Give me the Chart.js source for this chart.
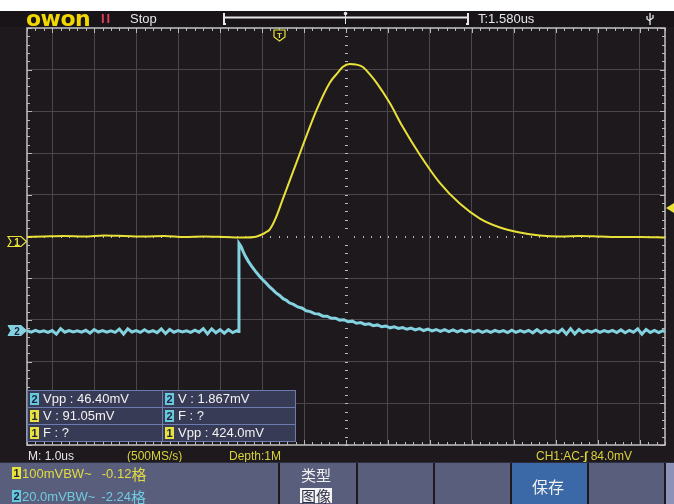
<!DOCTYPE html>
<html><head><meta charset="utf-8">
<script src="https://cdn.jsdelivr.net/npm/chart.js@4.4.1/dist/chart.umd.min.js"></script>
<style>
html,body{margin:0;padding:0;background:#1d191d;}
#wrap{position:relative;width:674px;height:504px;overflow:hidden;background:#1d191d;font-family:"Liberation Sans",Arial,sans-serif;}
#c{position:absolute;left:0;top:0;}
.t{position:absolute;white-space:nowrap;line-height:1;}
.row{position:absolute;white-space:nowrap;display:flex;align-items:center;height:14px;}
.cjk{font-family:"Noto Sans CJK SC","Liberation Sans",sans-serif;}
.badge{display:inline-block;width:9px;height:12px;line-height:12px;text-align:center;font-size:11px;font-weight:bold;color:#1d2040;}
.b1{background:#e8e23c;}
.b2{background:#66c9dc;}
.panel{position:absolute;top:463px;height:41px;background:#595e7c;}
.cell{position:absolute;height:17px;color:#f2f2f2;font-size:13px;display:flex;align-items:center;white-space:nowrap;}
</style></head>
<body><div id="wrap">
<canvas id="c" width="674" height="504"></canvas>
</div>
<script>
const CH1_SCALE = 100;   // mV/div
const CH1_OFFSET = -0.12; // div
const CH2_SCALE = 20;    // mV/div
const CH2_OFFSET = -2.24; // div
const X_GRID = [-7,-6,-5,-4,-3,-2,-1,1,2,3,4,5,6,7]; // us (1.0us/div), centre drawn dotted
const Y_GRID = [-4,-3,-2,-1,1,2,3,4];

const ch1Time = [-7.6,-7.19,-6.72,-6.24,-5.76,-5.28,-4.81,-4.33,-3.85,-3.38,-2.9,-2.42,-2.18,-2.06,-1.92,-1.82,-1.68,-1.51,-1.27,-1.04,-0.7,-0.39,-0.2,-0.08,0.09,0.23,0.4,0.56,0.73,1.04,1.35,1.76,2.23,2.71,3.19,3.67,4.14,4.62,5.1,5.58,6.05,6.53,7.01,7.6];
const ch1mV = [10.8,12.0,13.2,12.0,14.4,13.2,12.0,13.2,10.8,12.0,10.8,9.6,10.8,14.4,21.5,28.7,55.0,100.5,165.0,227.2,315.7,380.3,404.2,418.6,425.8,424.6,418.6,401.9,380.3,332.5,275.1,208.1,141.1,90.9,55.0,33.5,21.5,14.4,12.0,13.2,12.0,10.8,10.8,9.6];

const ch2Time = [-7.6,-7.5,-7.4,-7.3,-7.2,-7.1,-7.0,-6.9,-6.8,-6.7,-6.6,-6.5,-6.4,-6.3,-6.2,-6.1,-6.0,-5.9,-5.8,-5.7,-5.6,-5.5,-5.4,-5.3,-5.2,-5.1,-5.0,-4.9,-4.8,-4.7,-4.6,-4.5,-4.4,-4.3,-4.2,-4.1,-4.0,-3.9,-3.8,-3.7,-3.6,-3.5,-3.4,-3.3,-3.2,-3.1,-3.0,-2.9,-2.8,-2.7,-2.6,
 -2.57,-2.55,
 -2.50,-2.45,-2.40,-2.33,-2.25,-2.16,-2.07,-1.99,-1.90,-1.82,-1.74,-1.66,-1.58,-1.50,-1.42,-1.35,-1.25,-1.15,-1.04,-0.95,-0.85,-0.75,-0.65,-0.55,-0.45,-0.35,-0.25,-0.15,-0.05,
 0.05,0.15,0.25,0.35,0.45,0.55,0.65,0.75,0.85,0.95,1.05,1.15,1.25,1.35,1.45,1.55,1.65,1.75,1.85,1.95,2.05,2.15,2.25,2.35,2.45,2.55,2.65,2.75,2.85,2.95,
 3.05,3.15,3.25,3.35,3.45,3.55,3.65,3.75,3.85,3.95,4.05,4.15,4.25,4.35,4.45,4.55,4.65,4.75,4.85,4.95,5.05,5.15,5.25,5.35,5.45,5.55,5.65,5.75,5.85,5.95,
 6.05,6.15,6.25,6.35,6.45,6.55,6.65,6.75,6.85,6.95,7.05,7.15,7.25,7.35,7.45,7.55,7.6];
const ch2mV = [-0.3,-1.1,-0.2,-1.0,-0.4,-1.2,-0.3,-2.0,0.6,-1.1,-0.3,-1.0,-0.4,-1.1,-0.2,-1.5,0.2,-1.0,-0.3,-1.1,-0.4,-1.2,0.4,-2.0,0.5,-1.0,-0.3,-1.2,0.1,-1.1,-0.3,-1.3,0.5,-1.8,0.2,-1.1,-0.3,-1.0,-0.4,-1.2,-0.1,-1.1,0.6,-1.9,0.5,-1.4,0.1,-1.6,0.1,-1.3,-0.4,
 -0.8,41.5,
 40.0,37.6,35.4,33.0,30.6,28.2,26.0,24.2,22.4,20.6,19.2,17.6,16.5,15.0,14.2,13.0,12.2,11.0,10.4,9.2,8.8,7.8,7.6,6.6,6.6,5.6,5.6,4.7,4.9,
 3.9,4.2,3.2,3.5,2.6,2.9,2.0,2.4,1.5,1.9,1.0,1.5,0.7,1.1,0.3,0.9,0.0,0.6,-0.3,0.4,-0.5,0.2,-0.7,0.1,-0.8,0.0,-0.9,-0.1,-1.0,-0.2,
 -1.1,-0.2,-1.2,-0.3,-1.2,-0.2,-1.0,-0.3,-1.3,-0.1,-1.2,-0.3,-1.1,-0.2,-1.4,0.1,-1.3,-0.2,-1.2,-0.3,-1.3,0.3,-2.0,0.6,-1.9,0.2,-1.3,-0.3,-1.1,-0.1,
 -1.2,-0.3,-1.0,-0.2,-1.3,0.0,-1.4,-0.2,-1.1,0.5,-2.0,0.2,-1.2,-0.2,-1.3,-0.4,-0.8];

const measurements = [
  [["2","Vpp : 46.40mV"],["2","V : 1.867mV"]],
  [["1","V : 91.05mV"],["2","F :   ?"]],
  [["1","F :   ?"],["1","Vpp : 424.0mV"]]
];

// ---- chart ----
const YEL = '#e9e13a', CYA = '#84d2df';
const frame = {
  id:'frame',
  beforeDatasetsDraw(chart){
    const {ctx, chartArea:a, scales:{x,y}} = chart;
    ctx.save();
    ctx.fillStyle = '#b9b9b9';
    for (let k=-38;k<=38;k++){
      const px = Math.round(x.getPixelForValue(k*0.2));
      const major = k%5===0;
      const L = major?5:3;
      ctx.fillRect(px, a.top, 1, L);
      ctx.fillRect(px, a.bottom-L, 1, L);
      if (k!==0) ctx.fillRect(px, Math.round(y.getPixelForValue(0))-1, 1, 2);
    }
    for (let k=-25;k<=25;k++){
      const py = Math.round(y.getPixelForValue(k*0.2));
      const major = k%5===0;
      const L = major?5:3;
      ctx.fillRect(a.left, py, L, 1);
      ctx.fillRect(a.right-L, py, L, 1);
      if (k!==0) ctx.fillRect(Math.round(x.getPixelForValue(0))-1, py, 3, 1);
    }
    ctx.strokeStyle = '#c4c4c4';
    ctx.lineWidth = 1.5;
    ctx.strokeRect(a.left, a.top, a.right-a.left, a.bottom-a.top);
    ctx.restore();
  }
};

new Chart(document.getElementById('c'), {
  type:'line',
  data:{datasets:[
    {data: ch1Time.map((t,i)=>({x:t, y: ch1mV[i]/CH1_SCALE + CH1_OFFSET})), borderColor:YEL, borderWidth:2, pointRadius:0, cubicInterpolationMode:'monotone'},
    {data: ch2Time.map((t,i)=>({x:t, y: ch2mV[i]/CH2_SCALE + CH2_OFFSET})), borderColor:CYA, borderWidth:3, pointRadius:0, tension:0}
  ]},
  options:{
    responsive:false, animation:false, events:[],
    layout:{padding:{left:27,right:9,top:28,bottom:59}},
    scales:{
      x:{type:'linear', min:-7.6, max:7.6, ticks:{display:false}, border:{display:false},
         grid:{color:'#4a464c', lineWidth:1, drawTicks:false},
         afterBuildTicks:s=>{s.ticks = X_GRID.map(v=>({value:v}));}, afterFit:s=>{s.height=0;}},
      y:{type:'linear', min:-5, max:5, ticks:{display:false}, border:{display:false},
         grid:{color:'#4a464c', lineWidth:1, drawTicks:false},
         afterBuildTicks:s=>{s.ticks = Y_GRID.map(v=>({value:v}));}, afterFit:s=>{s.width=0;}}
    },
    plugins:{legend:{display:false}, tooltip:{enabled:false}}
  },
  plugins:[frame]
});

// ---- overlays (text) ----
const wrap = document.getElementById('wrap');
function add(html, css, cls){ const d=document.createElement('div'); d.className=cls||'t'; d.innerHTML=html; d.style.cssText=css; wrap.appendChild(d); return d; }

// top strip
add('', 'position:absolute;left:0;top:0;width:674px;height:11px;background:#ffffff;', 'x');
add('', 'position:absolute;left:0;top:11px;width:674px;height:16px;background:#181418;', 'x');
add('owon', 'left:26px;top:8px;font-size:22px;font-weight:bold;color:#f2d800;letter-spacing:-0.5px;font-family:"DejaVu Sans",sans-serif;');
add('II', 'left:101px;top:12px;font-size:13px;color:#e0405a;letter-spacing:2px;font-weight:bold;');
add('Stop', 'left:130px;top:12px;font-size:13px;color:#e6e6e6;');
add('T:1.580us', 'left:478px;top:12px;font-size:13px;color:#e6e6e6;');
add('<svg width="674" height="504" style="position:absolute;left:0;top:0">'+
  '<path d="M224 13 L224 24 L226 24 M224 17.5 L468 17.5 M468 13 L468 24 L466 24" stroke="#e8e8e8" stroke-width="2" fill="none"/>'+
  '<line x1="345.5" y1="13" x2="345.5" y2="24" stroke="#e8e8e8" stroke-width="1"/><circle cx="345.5" cy="13.5" r="1.8" fill="#e8e8e8"/>'+
  '<path d="M650 13 L650 25 M647 16 L647 19 L650 21 M653 15 L653 18 L650 20" stroke="#e8e8e8" stroke-width="1.3" fill="none"/>'+
  '<path d="M274 30 L285 30 L285 37 L279.5 41 L274 37 Z" fill="#1d191d" stroke="#e9e13a" stroke-width="1.2"/>'+
  '<text x="279.5" y="37.5" font-size="8" font-weight="bold" fill="#e9e13a" text-anchor="middle" font-family="Liberation Sans">T</text>'+
  '<path d="M666 208 L674 203 L674 213 Z" fill="#e9e13a"/>'+
  '<path d="M8 236.5 L21 236.5 L26.5 241.5 L21 246.5 L8 246.5 L11 241.5 Z" fill="#1d191d" stroke="#e9e13a" stroke-width="1.2"/>'+
  '<text x="17" y="245.5" font-size="10" font-weight="bold" fill="#e9e13a" text-anchor="middle" font-family="Liberation Sans">1</text>'+
  '<path d="M8 325.5 L21 325.5 L26.5 330.5 L21 335.5 L8 335.5 L11 330.5 Z" fill="#84d2df" stroke="#84d2df" stroke-width="1"/>'+
  '<text x="17" y="334.5" font-size="10" font-weight="bold" fill="#1d2040" text-anchor="middle" font-family="Liberation Sans">2</text>'+
  '</svg>', 'position:absolute;left:0;top:0;', 'x');

// measurement table
add('', 'position:absolute;left:27px;top:390px;width:269px;height:52px;background:#383b55;border:1px solid #6c7cae;box-sizing:border-box;', 'x');
add('', 'position:absolute;left:27px;top:406.5px;width:269px;height:1px;background:#6c7cae;', 'x');
add('', 'position:absolute;left:27px;top:423.5px;width:269px;height:1px;background:#6c7cae;', 'x');
add('', 'position:absolute;left:161.5px;top:390px;width:1px;height:52px;background:#6c7cae;', 'x');
measurements.forEach((row,r)=>{
  row.forEach((cell,c)=>{
    const left = c===0 ? 30 : 165;
    add('<span class="badge b'+cell[0]+'">'+cell[0]+'</span><span style="margin-left:4px">'+cell[1]+'</span>',
        'left:'+left+'px;top:'+(390+r*17)+'px;', 'cell');
  });
});

// bottom status line
add('M: 1.0us', 'left:28px;top:450px;font-size:12px;color:#e6e6e6;');
add('(500MS/s)', 'left:127px;top:450px;font-size:12px;color:#d9d23a;');
add('Depth:1M', 'left:229px;top:450px;font-size:12px;color:#d9d23a;');
add('CH1:AC-<span style="font-style:italic;font-weight:bold">&#8747;</span> 84.0mV', 'left:536px;top:450px;font-size:12px;color:#d9d23a;');

// bottom menu bar
add('', 'left:0;width:278px;', 'panel');
add('', 'left:280px;width:76px;', 'panel');
add('', 'left:358px;width:75px;', 'panel');
add('', 'left:435px;width:75px;', 'panel');
add('', 'left:512px;width:75px;background:#3b68a6;', 'panel');
add('', 'left:589px;width:75px;', 'panel');
add('', 'left:666px;width:8px;background:#8d93b8;', 'panel');
add('', 'position:absolute;left:0;top:462px;width:674px;height:1px;background:#2c2e40;', 'x');

add('<span class="badge b1">1</span><span style="margin-left:1px">100mVBW~</span><span style="margin-left:10px">-0.12</span><span class="cjk" style="font-size:15px">格</span>',
    'left:12px;top:466px;font-size:13px;color:#e3dc40;', 'row');
add('<span class="badge b2">2</span><span style="margin-left:1px">20.0mVBW~</span><span style="margin-left:6px">-2.24</span><span class="cjk" style="font-size:15px">格</span>',
    'left:12px;top:489px;font-size:13px;color:#6fcbe0;', 'row');
add('类型', 'left:301px;top:467px;font-size:15px;color:#f0f0f0;', 't cjk');
add('图像', 'left:300px;top:488px;font-size:15px;color:#2a2d45;background:#f4f4f4;padding:0 1px;', 't cjk');
add('保存', 'left:532px;top:478px;font-size:16px;color:#f0f0f0;', 't cjk');
</script>
</body></html>
